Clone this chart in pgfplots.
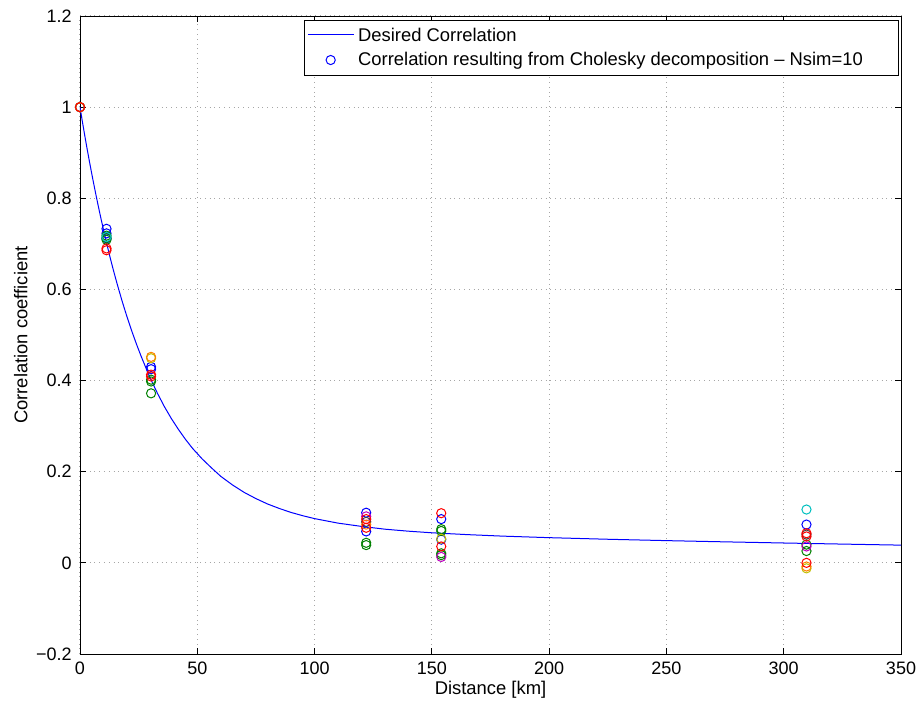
\documentclass[border=0pt]{standalone}
\usepackage{pgfplots}
\pgfplotsset{compat=1.18}
\usepackage{fontspec}
\setmainfont{Liberation Sans}
\definecolor{mgreen}{rgb}{0,0.5,0}
\definecolor{mred}{rgb}{1,0,0}
\definecolor{mblue}{rgb}{0,0,1}
\definecolor{mcyan}{rgb}{0,0.75,0.75}
\definecolor{mmag}{rgb}{0.75,0,0.75}
\definecolor{morange}{rgb}{1,0.5,0}
\definecolor{myellow}{rgb}{0.75,0.75,0}
\definecolor{mgray}{rgb}{0.25,0.25,0.25}
\begin{document}
\fontsize{9}{11}\selectfont
\begin{tikzpicture}
\begin{axis}[
  scale only axis,
  width=410.5pt, height=319pt,
  xmin=0, xmax=350, ymin=-0.2, ymax=1.2,
  xtick={0,50,...,350},
  ytick={-0.2,0,0.2,0.4,0.6,0.8,1,1.2},
  yticklabels={−0.2,0,0.2,0.4,0.6,0.8,1,1.2},
  /pgf/number format/assume math mode=true,
  tick label style={font=\fontsize{9}{11}\selectfont},
  label style={font=\fontsize{9.2}{11}\selectfont},
  yticklabel style={xshift=-1pt},
  xticklabel style={yshift=-1pt},
  tick align=inside,
  major tick length=3pt,
  tick style={black, line width=0.4pt},
  axis line style={black, line width=0.4pt},
  grid=major,
  grid style={dotted, gray!70, line width=0.5pt},
  xlabel={Distance [km]},
  ylabel={Correlation coefficient},
  xlabel style={yshift=3pt},
  ylabel style={yshift=-2pt},
  legend style={at={(rel axis cs:0.998,0.993)}, anchor=north east,
    draw=black, line width=0.5pt, font=\fontsize{9.2}{11}\selectfont,
    inner xsep=2pt, inner ysep=1.5pt, row sep=0pt, cells={anchor=west}},
  legend cell align=left,
  legend image code/.code={},
  mark size=2.3pt,
]
\addplot[mblue, line width=0.5pt, no marks,
  legend image code/.code={\node[anchor=west, inner sep=0pt, text=blue] at (3pt,0pt) {\textcolor{blue}{\rule[-0.25pt]{23pt}{0.55pt}}};}]
  coordinates {
  (0,1.0) (1,0.9687) (2,0.9386) (3,0.9094) (4,0.8814) (5,0.8542) (6,0.8279) (7,0.8025) (8,0.7779) (9,0.7541) (10,0.7312) (11,0.7090) (12,0.6876)
  (13,0.6669) (14,0.6469) (15,0.6277) (16,0.6091) (18,0.5736) (20,0.5405) (22,0.5098) (24,0.4810) (26,0.4541) (28,0.4291) (30,0.4047)
  (33,0.3722) (36,0.3426) (39,0.3162) (42,0.2925) (45,0.2708) (48,0.2511) (52,0.2285) (56,0.2087) (60,0.1899)
  (65,0.1710) (70,0.1546) (75,0.1410) (80,0.1291) (85,0.1193) (90,0.1106) (95,0.1034) (100,0.0971) (110,0.0872) (120,0.0800) (130,0.0739) (140,0.0695) (150,0.0660) (165,0.0620) (180,0.0587)
  (200,0.0553) (225,0.0518) (250,0.0488) (275,0.0461) (300,0.0436) (325,0.0412) (350,0.0389)};
\addlegendentry{Desired Correlation}
\addplot[only marks, mark=o, mblue, line width=0.5pt,
  legend image code/.code={\draw[mblue, line width=0.5pt] (14.5pt,0cm) circle (2.3pt);}]
  coordinates {(0,1) (11.3,0.733) (11.3,0.723) (11.3,0.712) (30.3,0.430) (30.3,0.425)
  (122,0.110) (122,0.069) (154,0.096) (154,0.051) (309.7,0.084)};
\addlegendentry{Correlation resulting from Cholesky decomposition -- Nsim=10\hspace*{14pt}}
\addplot[only marks, mark=o, mgreen, line width=0.5pt, forget plot]
  coordinates {(0,1) (11.3,0.718) (11.3,0.713) (11.3,0.709) (30.3,0.402) (30.3,0.398) (30.3,0.372)
  (122,0.044) (122,0.039) (154,0.074) (154,0.070) (154,0.021) (154,0.017) (309.7,0.040) (309.7,0.026)};
\addplot[only marks, mark=o, mcyan, line width=0.5pt, forget plot]
  coordinates {(0,1) (11.3,0.715) (309.7,0.117)};
\addplot[only marks, mark=o, mmag, line width=0.5pt, forget plot]
  coordinates {(0,1) (122,0.102) (154,0.013) (309.7,0.036)};
\addplot[only marks, mark=o, mgray, line width=0.5pt, forget plot]
  coordinates {(0,1) (122,0.090) (309.7,0.062)};
\addplot[only marks, mark=o, myellow, line width=0.5pt, forget plot]
  coordinates {(0,1) (30.3,0.449) (154,0.053) (309.7,-0.012)};
\addplot[only marks, mark=o, morange, line width=0.5pt, forget plot]
  coordinates {(0,1) (30.3,0.452) (122,0.084) (309.7,-0.008)};
\addplot[only marks, mark=o, mred, line width=0.5pt, forget plot]
  coordinates {(0,1) (11.3,0.690) (11.3,0.686) (30.3,0.413) (30.3,0.409)
  (122,0.096) (122,0.077) (154,0.109) (154,0.036) (309.7,0.065) (309.7,0.058) (309.7,0.0)};
\end{axis}
\pgfresetboundingbox
\path (current axis.south west) ++(-40pt,-24pt) coordinate (bl);
\path (current axis.north east) ++(9pt,8pt) coordinate (tr);
\useasboundingbox (bl) rectangle (tr);
\end{tikzpicture}
\end{document}
